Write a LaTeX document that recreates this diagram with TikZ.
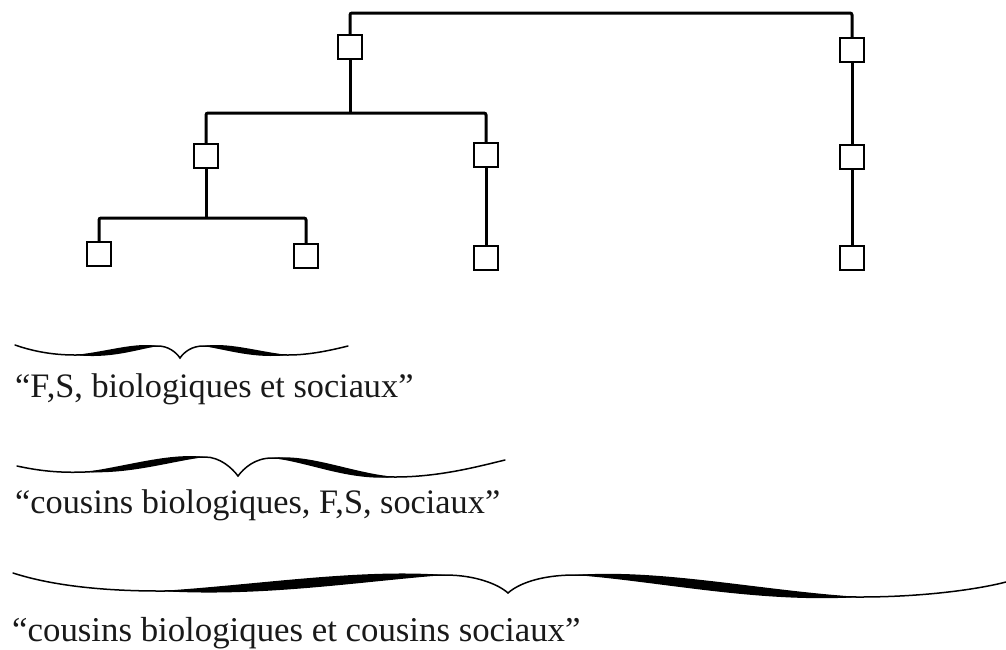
\documentclass[tikz,border=0pt]{standalone}
\usepackage{fontspec}
\setmainfont{Liberation Serif}
\tikzset{
  person/.style={draw, line width=2pt, minimum size=24pt, inner sep=0pt, fill=white},
  link/.style={line width=3pt, rounded corners=2pt},
  bracepen/.style={line width=1.5pt, line cap=round},
  label/.style={anchor=base west, inner sep=0pt, font=\fontsize{34.3}{40}\selectfont, text=black!90}
}
\newcommand\lens[9]{\fill (#1,#2) .. controls (#3,{#4-#9}) and (#5,{#6-#9}) .. (#7,#8) .. controls (#5,{#6+#9}) and (#3,{#4+#9}) .. (#1,#2) -- cycle;}
\begin{document}
\begin{tikzpicture}[x=1pt,y=-1pt]
\useasboundingbox (0,0) rectangle (1006,649);
% tree
\coordinate (t0) at (600,13);
\coordinate (t1) at (350,113);
\coordinate (t2) at (206,218);
\node[person] (a) at (350,47) {};
\node[person] (b) at (852,50) {};
\node[person] (c) at (206,156) {};
\node[person] (d) at (486,155) {};
\node[person] (e) at (99,254) {};
\node[person] (f) at (306,256) {};
\node[person] (g) at (486,258) {};
\node[person] (h) at (852,157) {};
\node[person] (i) at (852,258) {};
\draw[link] (a.north) |- (t0) -| (b.north);
\draw[link] (a.south) -- (t1);
\draw[link] (c.north) |- (t1) -| (d.north);
\draw[link] (c.south) -- (t2);
\draw[link] (e.north) |- (t2) -| (f.north);
\draw[link] (d.south) -- (g.north);
\draw[link] (b.south) -- (h.north);
\draw[link] (h.south) -- (i.north);
% brace 1
\draw[bracepen] (15,345) .. controls (35,352) and (55,355) .. (75,355) .. controls (110,355) and (135,346) .. (158,346) .. controls (168,346) and (176,352) .. (180,358) .. controls (184,352) and (192,346) .. (203,346) .. controls (228,346) and (255,355) .. (288,355) .. controls (310,355) and (332,350) .. (348,346);
\lens{75}{355}{110}{355}{135}{346}{158}{346}{4}
\lens{203}{346}{228}{346}{255}{355}{288}{355}{4}
% brace 2
\draw[bracepen] (17,466) .. controls (40,471) and (60,473) .. (85,472) .. controls (130,470) and (170,457) .. (205,457) .. controls (220,457) and (232,468) .. (238,476) .. controls (244,468) and (255,458) .. (272,458) .. controls (310,458) and (350,477) .. (395,477) .. controls (440,477) and (480,466) .. (505,460);
\lens{85}{472}{130}{470}{170}{457}{205}{457}{4.5}
\lens{272}{458}{310}{458}{350}{477}{395}{477}{4.5}
% brace 3
\draw[bracepen] (13,573) .. controls (50,585) and (100,591) .. (160,591) .. controls (260,591) and (360,575) .. (445,575) .. controls (475,575) and (498,584) .. (508,593) .. controls (518,584) and (540,575) .. (575,575) .. controls (660,575) and (760,597) .. (860,597) .. controls (920,597) and (975,590) .. (1006,582);
\lens{160}{591}{260}{591}{360}{575}{445}{575}{6.5}
\lens{575}{575}{660}{575}{760}{597}{860}{597}{6.5}
% labels
\node[label] (l1) at (15,397) {“F,S, biologiques et sociaux”};
\node[label] (l2) at (15,513) {“cousins biologiques, F,S, sociaux”};
\node[label, font=\fontsize{34.8}{40}\selectfont] (l3) at (12,641) {“cousins biologiques et cousins sociaux”};
\end{tikzpicture}
\end{document}
